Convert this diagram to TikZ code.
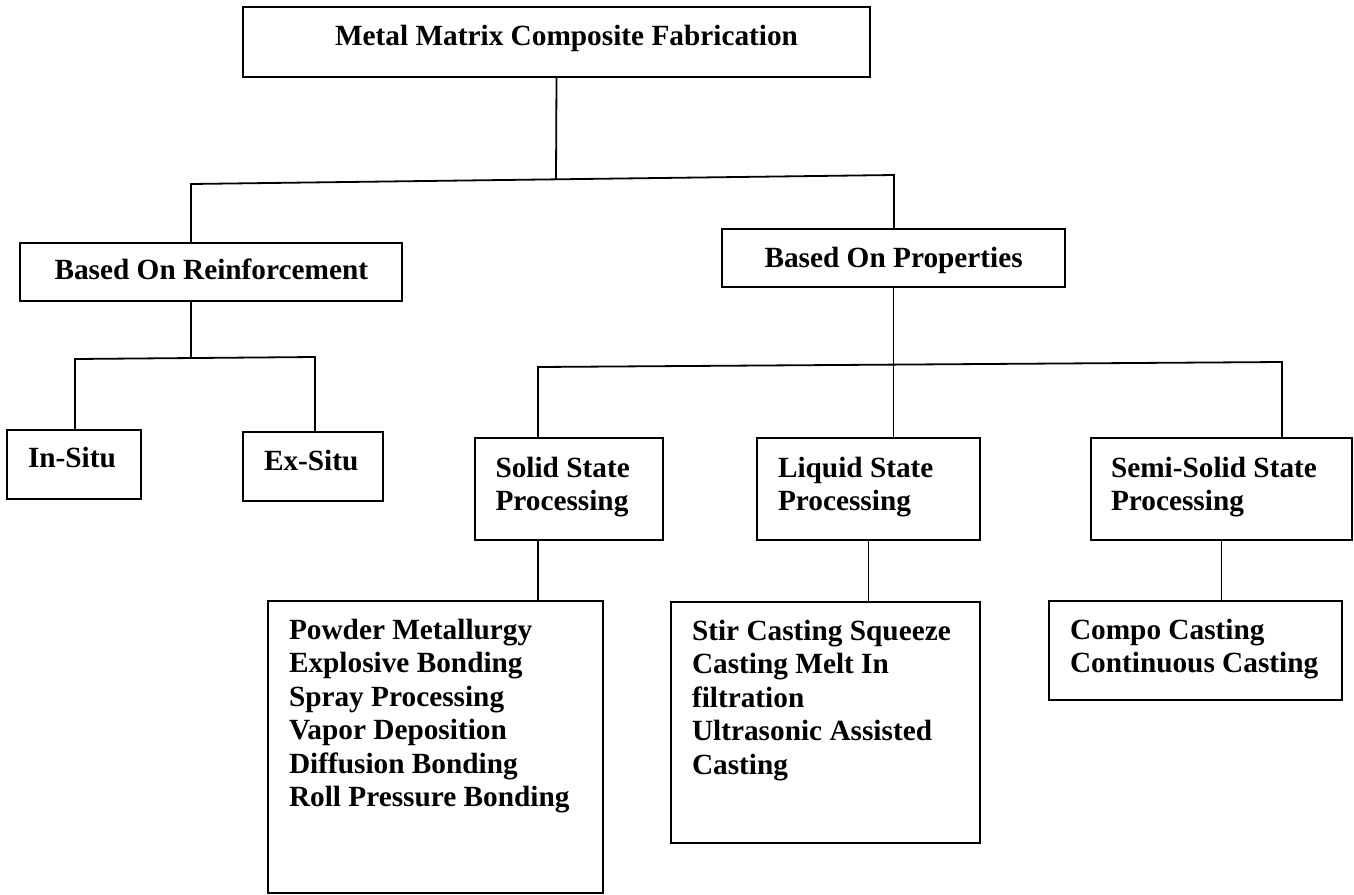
\documentclass[tikz,border=0pt]{standalone}
\usepackage{fontspec}
\setmainfont{Liberation Serif}
\newcommand{\cell}[5]{\parbox[t][#2pt][t]{#1pt}{\fontsize{29.3pt}{33.5pt}\selectfont\bfseries
  \leftskip=#3pt\relax\vspace*{#4pt}\rule{0pt}{21pt}#5}}

\begin{document}
\begin{tikzpicture}[
 x=1pt,y=-1pt,
 box/.style={draw,line width=2pt,inner sep=0pt,outer sep=0pt,anchor=north west},
 link/.style={line width=1.8pt}
]
\useasboundingbox (0,0) rectangle (1354,894);
\node[box] (mmc) at (243,7) {\cell{627}{70}{92}{17}{Metal Matrix Composite Fabrication}};
\node[box] (reinf) at (20,243) {\cell{382}{58}{34.5}{15}{Based On Reinforcement}};
\node[box] (prop) at (722,229) {\cell{343}{58}{42.5}{17}{Based On Properties}};
\node[box] (insitu) at (7,430) {\cell{134}{69}{21}{16}{In-Situ}};
\node[box] (exsitu) at (243,432) {\cell{140}{69}{21}{17}{Ex-Situ}};
\node[box] (solid) at (475,438) {\cell{188}{102}{20.5}{18}{Solid State\\Processing}};
\node[box] (liquid) at (757,438) {\cell{223}{102}{21}{18}{Liquid State\\Processing}};
\node[box] (semi) at (1091,438) {\cell{261}{102}{20}{18}{Semi-Solid State\\Processing}};
\node[box] (solidlist) at (268,601) {\cell{335}{292}{21}{17}{Powder Metallurgy\\Explosive Bonding\\
  Spray Processing\\Vapor Deposition\\Diffusion Bonding\\Roll Pressure Bonding}};
\node[box] (liquidlist) at (671,602) {\cell{309}{241}{21}{17}{Stir Casting Squeeze\\Casting Melt In\\
  filtration\\Ultrasonic Assisted\\Casting}};
\node[box] (semilist) at (1049,601) {\cell{293}{99}{21}{17}{Compo Casting\\Continuous Casting}};
\coordinate (busA-l) at (191,184);
\coordinate (busA-m) at (556,179);
\coordinate (busA-r) at (894,175);
\coordinate (busB-l) at (75,359);
\coordinate (busB-m) at (191,358);
\coordinate (busB-r) at (315,357);
\coordinate (busC-l) at (538,367);
\coordinate (busC-r) at (1282,362);
\draw[link] (mmc.south) -- (busA-m);
\draw[link] (reinf.north -| busA-l) -- (busA-l) -- (busA-r) -- (prop.north -| busA-r);
\draw[link] (reinf.south -| busB-m) -- (busB-m);
\draw[link] (insitu.north -| busB-l) -- (busB-l) -- (busB-r) -- (exsitu.north -| busB-r);
\draw[link] (prop.south) -- (prop.south |- liquid.north);
\draw[link] (solid.north -| busC-l) -- (busC-l) -- (busC-r) -- (semi.north -| busC-r);
\draw[link] (solid.south -| busC-l) -- (busC-l |- solidlist.north);
\draw[link] (liquid.south) -- (liquid.south |- liquidlist.north);
\draw[link] (semi.south) -- (semi.south |- semilist.north);
\end{tikzpicture}
\end{document}
